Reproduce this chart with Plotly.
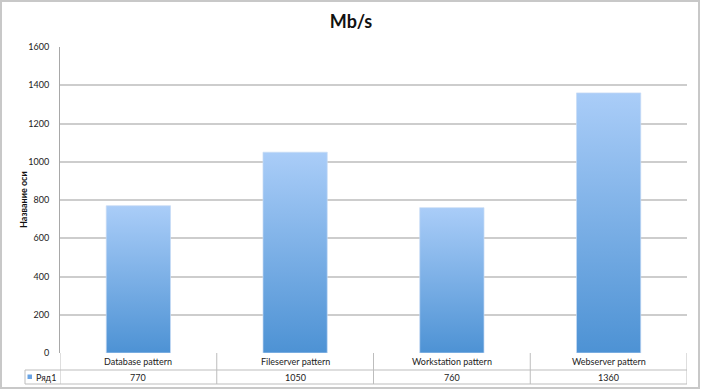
import plotly.graph_objects as go

categories = ["Database pattern", "Fileserver pattern", "Workstation pattern", "Webserver pattern"]
values = [770, 1050, 760, 1360]
series_name = "Ряд1"
y_ticks = [0, 200, 400, 600, 800, 1000, 1200, 1400, 1600]

W, H = 702, 390
ML, MR, MT, MB = 60, 15, 47, 37
PW = W - ML - MR
PH = H - MT - MB

def px_x(p):
    return (p - ML) / PW

def px_y(p):
    return (H - MB - p) / PH

FONT = "Lato, 'Open Sans', sans-serif"
GRID = "#cdcdcd"
TABLE = "#bdbdbd"

fig = go.Figure()
half = 0.205
for i, v in enumerate(values):
    fig.add_trace(go.Scatter(
        x=[i - half, i - half, i + half, i + half, i - half],
        y=[0, v, v, 0, 0],
        mode="lines",
        line=dict(color="rgba(200,220,245,0.7)", width=1),
        fill="toself",
        fillgradient=dict(type="vertical",
                          colorscale=[[0, "#4d92d4"], [1, "#aacdf8"]]),
        name=series_name,
        showlegend=False,
        hoverinfo="text",
        text=f"{categories[i]}: {v}",
    ))

shapes = []
# table horizontal lines
for yy, x0 in [(370, 25), (384, 25)]:
    shapes.append(dict(type="line", xref="paper", yref="paper",
                       x0=px_x(x0), x1=1, y0=px_y(yy), y1=px_y(yy),
                       line=dict(color=TABLE, width=1)))
# table vertical lines
for k in range(len(categories) + 1):
    shapes.append(dict(type="line", xref="x", yref="paper",
                       x0=k - 0.5, x1=k - 0.5, y0=0, y1=px_y(384),
                       line=dict(color=TABLE, width=1)))
shapes.append(dict(type="line", xref="paper", yref="paper",
                   x0=px_x(25), x1=px_x(25), y0=px_y(370), y1=px_y(384),
                   line=dict(color=TABLE, width=1)))
# legend key
shapes.append(dict(type="rect", xref="paper", yref="paper",
                   x0=px_x(27.5), x1=px_x(32), y0=px_y(379), y1=px_y(374.5),
                   fillcolor="#6aa4e4", line=dict(width=0)))
# outer frame
shapes.append(dict(type="rect", xref="paper", yref="paper",
                   x0=px_x(1), x1=px_x(699), y0=px_y(388), y1=px_y(1),
                   line=dict(color="#c8c8c8", width=2)))

TF = dict(size=9, color="#222", family=FONT)
annotations = []
for i, c in enumerate(categories):
    annotations.append(dict(x=i, y=px_y(362), xref="x", yref="paper", text=c,
                            xanchor="center", yanchor="middle", showarrow=False, font=TF))
    annotations.append(dict(x=i, y=px_y(377), xref="x", yref="paper", text=str(values[i]),
                            xanchor="center", yanchor="middle", showarrow=False, font=TF))
annotations.append(dict(x=px_x(33.5), y=px_y(377), xref="paper", yref="paper", text=series_name,
                        xanchor="left", yanchor="middle", showarrow=False, font=TF))
annotations.append(dict(x=px_x(23), y=px_y(200), xref="paper", yref="paper", text="<b>Название оси</b>",
                        textangle=-90, xanchor="center", yanchor="middle", showarrow=False,
                        font=dict(size=9, color="#111", family=FONT)))

fig.update_layout(
    width=W, height=H,
    margin=dict(l=ML, r=MR, t=MT, b=MB),
    paper_bgcolor="white", plot_bgcolor="white",
    title=dict(text="<b>Mb/s</b>", x=0.5, xanchor="center", y=1 - 22 / H, yanchor="middle",
               font=dict(size=18, color="#111", family=FONT)),
    xaxis=dict(range=[-0.5, 3.5], showticklabels=False, showgrid=False, zeroline=False,
               showline=False, fixedrange=True),
    yaxis=dict(range=[0, 1600], tickvals=y_ticks, showgrid=True, gridcolor=GRID, gridwidth=2,
               zeroline=False, showline=True, linecolor="#a8a8a8", linewidth=1,
               ticks="", tickfont=dict(size=9, color="#222", family=FONT), ticklabelstandoff=8),
    shapes=shapes,
    annotations=annotations,
    showlegend=False,
)

fig.write_html("out.html", config={"displayModeBar": False},
               post_script="document.body.style.margin='0';document.body.style.overflow='hidden';")
